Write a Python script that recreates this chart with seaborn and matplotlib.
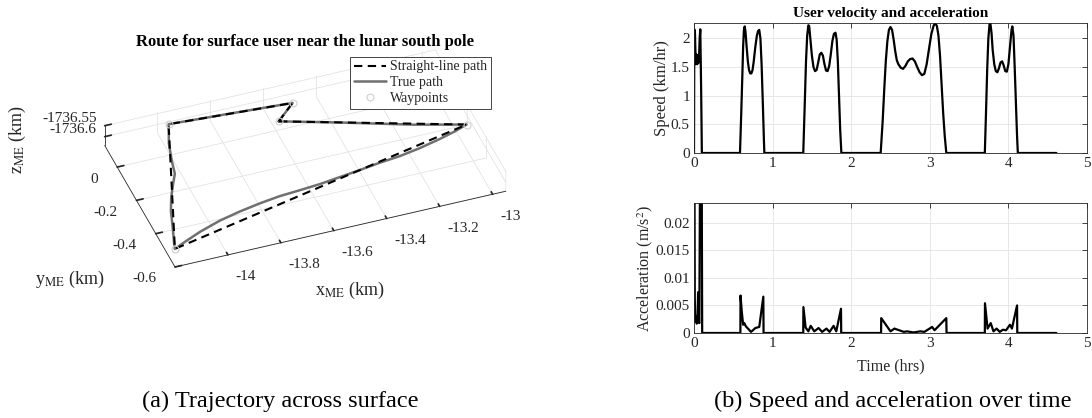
import numpy as np
import pandas as pd
import matplotlib
matplotlib.use("Agg")
import matplotlib.pyplot as plt
from matplotlib.lines import Line2D
from matplotlib.ticker import FixedLocator, FuncFormatter
from mpl_toolkits.mplot3d import proj3d
import seaborn as sns

# ---------------- route (Moon-fixed frame, km) ----------------
# waypoints in visiting order, closing the loop
wp_x = [-13.597, -13.516, -13.969, -14.187, -12.975, -13.597]
wp_y = [-0.020, 0.0585, 0.101, -0.563, -0.2615, -0.020]
wp_z = [-1736.583, -1736.581, -1736.585, -1736.589, -1736.586, -1736.583]

# driven path
true_x = [-13.597, -13.516, -13.740, -13.969, -14.005, -14.028, -14.043, -14.068,
          -14.100, -14.127, -14.153, -14.180, -14.187, -14.140, -14.070, -13.983,
          -13.899, -13.816, -13.736, -13.658, -13.580, -13.499, -13.419, -13.339,
          -13.260, -13.178, -13.094, -13.029, -12.975, -13.150, -13.400, -13.597]
true_y = [-0.020, 0.0585, 0.080, 0.101, -0.001, -0.093, -0.167, -0.218,
          -0.286, -0.357, -0.447, -0.537, -0.563, -0.538, -0.503, -0.469,
          -0.445, -0.426, -0.413, -0.406, -0.398, -0.385, -0.372, -0.3585,
          -0.348, -0.330, -0.306, -0.284, -0.2615, -0.200, -0.097, -0.020]
true_z = [-1736.583, -1736.581, -1736.583, -1736.585, -1736.586, -1736.586, -1736.587, -1736.587,
          -1736.588, -1736.588, -1736.589, -1736.589, -1736.589, -1736.589, -1736.589, -1736.588,
          -1736.588, -1736.588, -1736.587, -1736.587, -1736.587, -1736.587, -1736.587, -1736.586,
          -1736.586, -1736.586, -1736.586, -1736.586, -1736.586, -1736.585, -1736.584, -1736.583]

x_lim = (-14.2, -12.95)
y_lim = (-0.6, 0.13)
z_lim = (-1736.64, -1736.545)
x_ticks = [-14, -13.8, -13.6, -13.4, -13.2, -13]
y_ticks = [-0.6, -0.4, -0.2, 0]
z_ticks = [-1736.6, -1736.55]

# ---------------- speed (km/hr) per drive ----------------
spd_t0 = [0.000, 0.004, 0.012, 0.022, 0.032, 0.042, 0.052, 0.062, 0.072, 0.080, 0.090, 0.100]
spd_v0 = [0.00, 2.16, 2.10, 1.55, 1.72, 1.55, 1.70, 1.58, 2.00, 2.16, 1.20, 0.00]
spd_t1 = [0.585, 0.600, 0.615, 0.625, 0.635, 0.645, 0.655, 0.670, 0.685, 0.700, 0.715, 0.730,
          0.745, 0.760, 0.780, 0.800, 0.815, 0.830, 0.845, 0.860, 0.875, 0.890, 0.895]
spd_v1 = [0.00, 0.65, 1.35, 1.85, 2.15, 2.21, 2.12, 1.85, 1.60, 1.45, 1.39, 1.39,
          1.45, 1.60, 1.85, 2.05, 2.13, 2.15, 2.00, 1.55, 0.90, 0.20, 0.00]
spd_t2 = [1.390, 1.410, 1.425, 1.440, 1.455, 1.465, 1.480, 1.500, 1.520, 1.540, 1.560, 1.580,
          1.600, 1.620, 1.640, 1.660, 1.680, 1.700, 1.720, 1.740, 1.760, 1.780, 1.800, 1.815,
          1.830, 1.845, 1.860, 1.875]
spd_v2 = [0.00, 0.90, 1.60, 2.05, 2.23, 2.22, 2.00, 1.70, 1.50, 1.43, 1.45, 1.58,
          1.72, 1.75, 1.70, 1.55, 1.44, 1.43, 1.52, 1.72, 1.95, 2.08, 2.10, 1.98,
          1.60, 1.00, 0.40, 0.00]
spd_t3 = [2.375, 2.400, 2.420, 2.440, 2.460, 2.480, 2.500, 2.520, 2.540, 2.560, 2.580, 2.600,
          2.630, 2.660, 2.690, 2.720, 2.750, 2.780, 2.810, 2.840, 2.870, 2.900, 2.930, 2.960,
          2.990, 3.020, 3.050, 3.070, 3.090, 3.110, 3.130, 3.150, 3.170, 3.190, 3.210]
spd_v3 = [0.00, 0.55, 1.10, 1.60, 1.95, 2.15, 2.20, 2.15, 1.98, 1.78, 1.62, 1.55,
          1.49, 1.47, 1.52, 1.60, 1.64, 1.65, 1.60, 1.50, 1.41, 1.36, 1.38, 1.55,
          1.82, 2.08, 2.23, 2.26, 2.22, 2.05, 1.70, 1.20, 0.70, 0.30, 0.00]
spd_t4 = [3.700, 3.715, 3.730, 3.745, 3.760, 3.770, 3.785, 3.800, 3.820, 3.840, 3.860, 3.880,
          3.900, 3.920, 3.940, 3.960, 3.980, 4.000, 4.020, 4.040, 4.050, 4.065, 4.080, 4.095,
          4.110, 4.120]
spd_v4 = [0.00, 0.70, 1.45, 2.00, 2.25, 2.27, 2.10, 1.80, 1.55, 1.43, 1.41, 1.48,
          1.58, 1.60, 1.53, 1.43, 1.42, 1.55, 1.85, 2.15, 2.21, 2.05, 1.50, 0.90,
          0.30, 0.00]
spd_t_end = [4.610]
spd_v_end = [0.00]

# ---------------- acceleration (m/s^2) per drive ----------------
acc_t0 = [0.000, 0.004, 0.010, 0.016, 0.024, 0.034, 0.044, 0.052, 0.060, 0.068, 0.080, 0.096, 0.104]
acc_a0 = [0.040, 0.040, 0.0062, 0.0020, 0.0030, 0.0017, 0.0019, 0.0074, 0.0021, 0.0018, 0.040, 0.040, 0.0]
acc_t1 = [0.590, 0.592, 0.607, 0.625, 0.640, 0.660, 0.700, 0.725, 0.750, 0.780, 0.830, 0.882, 0.885]
acc_a1 = [0.0, 0.0068, 0.0040, 0.0015, 0.0018, 0.0012, 0.0006, 0.0002, 0.0005, 0.0009, 0.0011, 0.0066, 0.0]
acc_t2 = [1.390, 1.392, 1.420, 1.455, 1.485, 1.530, 1.585, 1.630, 1.685, 1.725, 1.776, 1.810, 1.870, 1.873]
acc_a2 = [0.0, 0.0047, 0.0010, 0.0003, 0.0013, 0.0003, 0.0009, 0.0002, 0.0008, 0.0002, 0.0013, 0.0003, 0.0044, 0.0]
acc_t3 = [2.380, 2.382, 2.500, 2.550, 2.670, 2.710, 2.790, 2.880, 2.930, 3.030, 3.060, 3.210, 3.213]
acc_a3 = [0.0, 0.0027, 0.0003, 0.0008, 0.0002, 0.0003, 0.0001, 0.0003, 0.0002, 0.0011, 0.0005, 0.0027, 0.0]
acc_t4 = [3.700, 3.702, 3.735, 3.775, 3.810, 3.850, 3.890, 3.930, 3.970, 4.020, 4.045, 4.110, 4.113]
acc_a4 = [0.0, 0.0054, 0.0008, 0.0018, 0.0003, 0.0008, 0.0002, 0.0006, 0.0005, 0.0015, 0.0008, 0.0050, 0.0]
acc_t_end = [4.610]
acc_a_end = [0.0]

time_ticks = [0, 1, 2, 3, 4, 5]
speed_ticks = [0, 0.5, 1, 1.5, 2]
acc_ticks = [0, 0.005, 0.01, 0.015, 0.02]

# ---------------- style ----------------
sns.set_theme(style="whitegrid")
INK = "#262626"
GRID = "#e3e3e3"
plt.rcParams.update({
    "font.family": ["Liberation Serif", "DejaVu Serif"],
    "mathtext.fontset": "stix",
    "text.color": INK,
    "axes.labelcolor": INK,
    "xtick.color": INK,
    "ytick.color": INK,
    "axes.edgecolor": INK,
    "grid.color": GRID,
    "grid.linewidth": 0.6,
    "axes.unicode_minus": False,
})

W, H = 1092, 418
fig = plt.figure(figsize=(W / 100, H / 100), dpi=100)
fmt_g = FuncFormatter(lambda v, pos: "%g" % v)

# ---------------- 3-D route ----------------
side = 540
ax3 = fig.add_axes([(305 - side / 2) / W, (H - 160 - side / 2) / H, side / W, side / H],
                   projection="3d", proj_type="ortho")
ax3.computed_zorder = False
ax3.patch.set_alpha(0)
ax3.set_xlim(*x_lim)
ax3.set_ylim(*y_lim)
ax3.set_zlim(*z_lim)
aspect = (x_lim[1] - x_lim[0], y_lim[1] - y_lim[0], z_lim[1] - z_lim[0])
zoom = 1.0
ax3.set_box_aspect(aspect, zoom=zoom)
ax3.view_init(elev=39, azim=-110)

ax3.plot(true_x, true_y, true_z, color="#707070", lw=1.8, zorder=2)
ax3.plot(wp_x, wp_y, wp_z, color="black", lw=1.5, dashes=(4, 2.6), zorder=3)
ax3.plot(wp_x[:-1], wp_y[:-1], wp_z[:-1], ls="none", marker="o", ms=5,
         mfc="none", mec="#cfcfcf", mew=0.8, zorder=4)

for axis, ticks in ((ax3.xaxis, x_ticks), (ax3.yaxis, y_ticks), (ax3.zaxis, z_ticks)):
    axis.set_major_locator(FixedLocator(ticks))
    axis.set_major_formatter(fmt_g)
    axis.set_pane_color((1, 1, 1, 0))
    axis.pane.set_edgecolor(GRID)
    axis.line.set_color(INK)
    axis.line.set_linewidth(0.6)
    axis._axinfo["grid"].update(color=GRID, linewidth=0.6)
    axis._axinfo["tick"]["inward_factor"] = 0.0
    axis._axinfo["tick"]["outward_factor"] = 0.25
ax3.tick_params(labelsize=11, colors=INK, width=0.6)
ax3.xaxis.set_tick_params(pad=14)
ax3.yaxis.set_tick_params(pad=3.5)
ax3.zaxis.set_tick_params(pad=-4)
ax3.set_xlabel("")
ax3.set_ylabel("")
ax3.set_zlabel("")

# place the box: front-left-bottom corner and front-right-bottom corner
tgt0 = np.array([175.0, H - 267.0])
tgt1 = np.array([506.0, H - 192.0])


def corner_px():
    fig.canvas.draw()
    xs, ys, _ = proj3d.proj_transform(np.array([x_lim[0], x_lim[1]]),
                                      np.array([y_lim[0], y_lim[0]]),
                                      np.array([z_lim[0], z_lim[0]]), ax3.get_proj())
    return ax3.transData.transform(np.column_stack([xs, ys]))


p = corner_px()
zoom *= np.linalg.norm(tgt1 - tgt0) / np.linalg.norm(p[1] - p[0])
ax3.set_box_aspect(aspect, zoom=zoom)
p = corner_px()
pos = ax3.get_position(original=True)
dx, dy = (tgt0 - p[0]) / np.array([W, H])
ax3.set_position([pos.x0 + dx, pos.y0 + dy, pos.width, pos.height])
fig.canvas.draw()

for tk in ax3.xaxis.get_major_ticks():
    tk.label1.set_horizontalalignment("left")
    tk.label1.set_verticalalignment("top")
for tk in ax3.yaxis.get_major_ticks():
    tk.label1.set_horizontalalignment("right")
for tk in ax3.zaxis.get_major_ticks():
    tk.label1.set_horizontalalignment("right")
    tk.label1.set_verticalalignment("bottom")

leg_handles = [
    Line2D([], [], color="black", lw=1.5, dashes=(4, 2.6)),
    Line2D([], [], color="#707070", lw=1.8),
    Line2D([], [], ls="none", marker="o", ms=5, mfc="none", mec="#cfcfcf", mew=0.8),
]
leg = ax3.legend(leg_handles, ["Straight-line path", "True path", "Waypoints"],
                 loc="upper right", bbox_to_anchor=(491 / W, 1 - 57 / H),
                 bbox_transform=fig.transFigure, fontsize=10, frameon=True,
                 fancybox=False, edgecolor=INK, framealpha=1, borderpad=0.25,
                 labelspacing=0.2, handlelength=2.3, handletextpad=0.35, borderaxespad=0)
leg.get_frame().set_linewidth(0.6)

fig.text(305 / W, 1 - 42 / H, "Route for surface user near the lunar south pole",
         ha="center", va="center", fontsize=12, fontweight="bold", color="black")
fig.text(350 / W, 1 - 290 / H, "x$_{\\mathrm{ME}}$ (km)", ha="center", va="center", fontsize=13)
fig.text(70 / W, 1 - 279 / H, "y$_{\\mathrm{ME}}$ (km)", ha="center", va="center", fontsize=13)
fig.text(17 / W, 1 - 140 / H, "z$_{\\mathrm{ME}}$ (km)", ha="center", va="center",
         fontsize=13, rotation=90)

# ---------------- speed and acceleration ----------------
speed = pd.DataFrame({
    "t": spd_t0 + spd_t1 + spd_t2 + spd_t3 + spd_t4 + spd_t_end,
    "v": spd_v0 + spd_v1 + spd_v2 + spd_v3 + spd_v4 + spd_v_end,
})
accel = pd.DataFrame({
    "t": acc_t0 + acc_t1 + acc_t2 + acc_t3 + acc_t4 + acc_t_end,
    "a": acc_a0 + acc_a1 + acc_a2 + acc_a3 + acc_a4 + acc_a_end,
})

ax_v = fig.add_axes([694 / W, 1 - 153 / H, 393 / W, 130 / H])
ax_a = fig.add_axes([694 / W, 1 - 333 / H, 393 / W, 130 / H])

sns.lineplot(data=speed, x="t", y="v", ax=ax_v, color="black", lw=1.6,
             estimator=None, sort=False)
sns.lineplot(data=accel, x="t", y="a", ax=ax_a, color="black", lw=1.6,
             estimator=None, sort=False)

for ax, yt, ylim in ((ax_v, speed_ticks, (0, 2.27)), (ax_a, acc_ticks, (0, 0.0236))):
    ax.set_xlim(0, 5)
    ax.set_ylim(*ylim)
    ax.xaxis.set_major_locator(FixedLocator(time_ticks))
    ax.yaxis.set_major_locator(FixedLocator(yt))
    ax.xaxis.set_major_formatter(fmt_g)
    ax.yaxis.set_major_formatter(fmt_g)
    ax.grid(True, color=GRID, lw=0.6)
    ax.set_axisbelow(True)
    for s in ax.spines.values():
        s.set_visible(True)
        s.set_color(INK)
        s.set_linewidth(0.6)
    ax.tick_params(direction="in", top=True, right=True, length=3.5, width=0.6,
                   labelsize=11, colors=INK, pad=3)
    ax.set_xlabel("")

ax_v.set_ylabel("Speed (km/hr)", fontsize=12, labelpad=0.5)
ax_a.set_ylabel("Acceleration (m/s$^2$)", fontsize=11.5, labelpad=0.5)
ax_a.set_xlabel("Time (hrs)", fontsize=11.5, labelpad=6)
ax_v.set_title("User velocity and acceleration", fontsize=11, fontweight="bold",
               color="black", pad=4)

fig.text(280 / W, 1 - 401 / H, "(a) Trajectory across surface", ha="center", va="center",
         fontsize=17.5, color="black")
fig.text(893 / W, 1 - 401 / H, "(b) Speed and acceleration over time", ha="center",
         va="center", fontsize=17.5, color="black")

fig.savefig("out.png", dpi=100)
